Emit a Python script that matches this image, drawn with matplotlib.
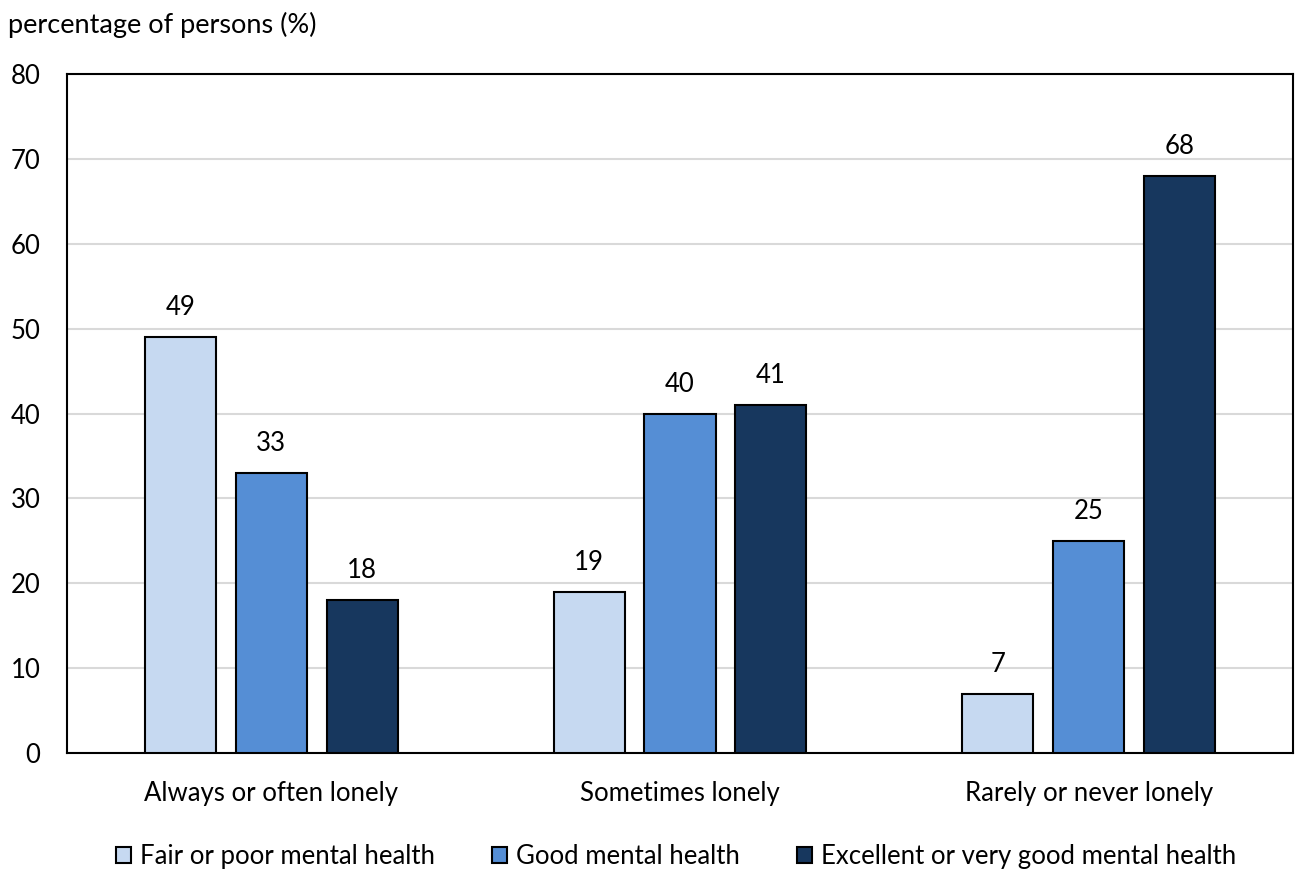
import numpy as np
import matplotlib.pyplot as plt

plt.rcParams['font.family'] = ['Lato', 'DejaVu Sans']

categories = ['Always or often lonely', 'Sometimes lonely', 'Rarely or never lonely']
series_names = ['Fair or poor mental health', 'Good mental health',
                'Excellent or very good mental health']
fair_poor = [49, 19, 7]
good = [33, 40, 25]
excellent = [18, 41, 68]
colors = ['#C6D9F1', '#558ED5', '#17375E']

fs = 18.5

fig = plt.figure(figsize=(12.95, 8.69), dpi=100)
ax = fig.add_axes([0.0517, 0.1335, 0.9468, 0.7813])

x = np.arange(len(categories))
width = 0.174
offset = 0.2225
for i, (vals, name, col) in enumerate(zip([fair_poor, good, excellent], series_names, colors)):
    pos = x + (i - 1) * offset
    bars = ax.bar(pos, vals, width, color=col, edgecolor='black', linewidth=1.5,
                  label=name, zorder=3)
    for b, v in zip(bars, vals):
        ax.text(b.get_x() + b.get_width() / 2, v + 2.0, str(v), ha='center',
                va='bottom', fontsize=fs, color='black')

ax.set_xlim(-0.5, 2.5)
ax.set_ylim(0, 80)
ax.set_yticks(range(0, 81, 10))
ax.set_xticks(x)
ax.set_xticklabels(categories, fontsize=fs)
ax.tick_params(axis='y', labelsize=fs, length=0, pad=19)
ax.tick_params(axis='x', length=0, pad=20)
ax.grid(axis='y', color='#D9D9D9', linewidth=1.5, zorder=0)
for s in ax.spines.values():
    s.set_color('black')
    s.set_linewidth(1.5)

fig.text(0.006, 0.971, 'percentage of persons (%)', fontsize=19.5, va='center', ha='left')

fig.legend(loc='center', bbox_to_anchor=(0.522, 0.014), ncol=3, frameon=False,
           fontsize=fs, handlelength=0.6, handleheight=0.6, handletextpad=0.35,
           columnspacing=2.2, borderpad=0)

fig.savefig('out.png', dpi=100)
